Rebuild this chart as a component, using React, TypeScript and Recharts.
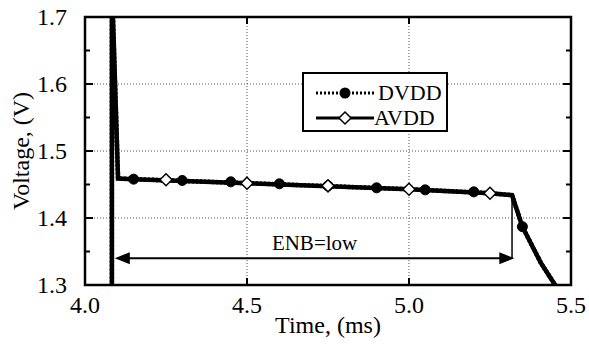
import React from 'react';
import { ComposedChart, Line, XAxis, YAxis, ReferenceLine, ReferenceArea, Legend } from 'recharts';

const FONT = 'Liberation Serif, Times New Roman, serif';

// main waveform (DVDD and AVDD coincide)
const curveTime = [4.083, 4.083, 4.102, 4.15, 4.5, 5.0, 5.25, 5.318, 5.35, 5.407, 5.455];
const curveVolt = [1.25, 1.75, 1.459, 1.458, 1.452, 1.443, 1.437, 1.434, 1.387, 1.333, 1.297];

// marker positions
const dvddTime = [4.15, 4.3, 4.45, 4.6, 4.75, 4.9, 5.05, 5.2, 5.35];
const dvddVolt = [1.458, 1.456, 1.454, 1.451, 1.448, 1.445, 1.442, 1.439, 1.387];
const avddTime = [4.25, 4.5, 4.75, 5.0, 5.25];
const avddVolt = [1.457, 1.452, 1.448, 1.443, 1.437];

const seriesNames = ['DVDD', 'AVDD'];

const yTicks = [1.3, 1.35, 1.4, 1.45, 1.5, 1.55, 1.6, 1.65, 1.7];
const xTicks = [4.0, 4.5, 5.0, 5.5];
const yGrid = [1.4, 1.5, 1.6];
const xGrid = [4.5, 5.0];

// ENB annotation
const enbStart = 4.092;
const enbEnd = 5.325;
const enbLevel = 1.34;
const enbMarkTime = 5.318;
const enbMarkTop = 1.434;
const enbLabel = 'ENB=low';

const curveData = curveTime.map((t, i) => ({ t, v: curveVolt[i] }));
const dvddData = dvddTime.map((t, i) => ({ t, v: dvddVolt[i] }));
const avddData = avddTime.map((t, i) => ({ t, v: avddVolt[i] }));

const isMajor = (v: number) => Math.abs(v * 10 - Math.round(v * 10)) < 1e-6;

const LeftTick = (props: any) => {
  const { x, y, payload } = props;
  const v = payload.value;
  const major = isMajor(v);
  const ax = x + 18;
  return (
    <g>
      <line x1={ax} x2={ax + (major ? 8 : 5)} y1={y} y2={y} stroke="#000" strokeWidth={2} />
      {major ? (
        <text x={x} y={y} dy={8} textAnchor="end" fontSize={24} style={{ fontFamily: FONT }} fill="#000">
          {v.toFixed(1)}
        </text>
      ) : null}
    </g>
  );
};

const RightTick = (props: any) => {
  const { x, y, payload } = props;
  const major = isMajor(payload.value);
  return <line x1={x} x2={x - (major ? 8 : 5)} y1={y} y2={y} stroke="#000" strokeWidth={2} />;
};

const BottomTick = (props: any) => {
  const { x, y, payload, index } = props;
  const v = payload.value;
  const inner = index > 0 && index < xTicks.length - 1;
  return (
    <g>
      {inner ? <line x1={x} x2={x} y1={y} y2={y - 7} stroke="#000" strokeWidth={2} /> : null}
      <text x={x} y={y + 28} textAnchor="middle" fontSize={24} style={{ fontFamily: FONT }} fill="#000">
        {v.toFixed(1)}
      </text>
    </g>
  );
};

const TopTick = (props: any) => {
  const { x, y, index } = props;
  const inner = index > 0 && index < xTicks.length - 1;
  return inner ? <line x1={x} x2={x} y1={y} y2={y + 7} stroke="#000" strokeWidth={2} /> : <g />;
};

const circleDot = (props: any) => {
  const { cx, cy, index } = props;
  return <circle key={`c-${index}`} cx={cx} cy={cy} r={5} fill="#000" stroke="#000" />;
};

const diamondDot = (props: any) => {
  const { cx, cy, index } = props;
  const s = 6;
  return (
    <path
      key={`d-${index}`}
      d={`M${cx} ${cy - s} L${cx + s} ${cy} L${cx} ${cy + s} L${cx - s} ${cy} Z`}
      fill="#fff"
      stroke="#000"
      strokeWidth={1.5}
    />
  );
};

const ArrowShape = (props: any) => {
  const { x1, y1, x2, y2 } = props;
  const a = 15;
  const h = 6;
  const left = Math.min(x1, x2);
  const right = Math.max(x1, x2);
  const y = y1;
  return (
    <g>
      <line x1={left + a - 2} x2={right - a + 2} y1={y} y2={y2} stroke="#000" strokeWidth={2} />
      <path d={`M${left} ${y} L${left + a} ${y - h} L${left + a} ${y + h} Z`} fill="#000" />
      <path d={`M${right} ${y} L${right - a} ${y - h} L${right - a} ${y + h} Z`} fill="#000" />
    </g>
  );
};

const LegendBox = () => (
  <svg width={146} height={60} style={{ display: 'block' }}>
    <rect x={1} y={1} width={144} height={58} fill="#fff" stroke="#000" strokeWidth={2} />
    <line x1={14} x2={73} y1={21} y2={21} stroke="#000" strokeWidth={3} strokeDasharray="2 2" />
    <circle cx={43} cy={21} r={5.5} fill="#000" />
    <text x={76} y={28} fontSize={22} style={{ fontFamily: FONT }} fill="#000">{seriesNames[0]}</text>
    <line x1={14} x2={72} y1={46} y2={46} stroke="#000" strokeWidth={3} />
    <path d="M43 40 L49 46 L43 52 L37 46 Z" fill="#fff" stroke="#000" strokeWidth={1.5} />
    <text x={72} y={53} fontSize={22} style={{ fontFamily: FONT }} fill="#000">{seriesNames[1]}</text>
  </svg>
);

export default function App() {
  return (
    <div style={{ position: 'absolute', left: 0, top: 0, background: '#fff', fontFamily: FONT }}>
      <ComposedChart width={589} height={347} margin={{ top: 0, right: 0, bottom: 0, left: 0 }}>
        <XAxis
          dataKey="t"
          type="number"
          domain={[4, 5.5]}
          ticks={xTicks}
          allowDataOverflow
          interval={0}
          height={62}
          tickSize={0}
          tickMargin={0}
          tickLine={false}
          axisLine={false}
          tick={<BottomTick />}
          label={{ value: 'Time, (ms)', position: 'insideBottom', offset: 14, style: { fontSize: 24, fontFamily: FONT, fill: '#000' } }}
        />
        <XAxis
          xAxisId="top"
          orientation="top"
          dataKey="t"
          type="number"
          domain={[4, 5.5]}
          ticks={xTicks}
          allowDataOverflow
          interval={0}
          height={17}
          tickSize={0}
          tickMargin={0}
          tickLine={false}
          axisLine={false}
          tick={<TopTick />}
        />
        <YAxis
          dataKey="v"
          type="number"
          domain={[1.3, 1.7]}
          ticks={yTicks}
          allowDataOverflow
          interval={0}
          width={85}
          tickSize={0}
          tickMargin={18}
          tickLine={false}
          axisLine={false}
          tick={<LeftTick />}
          label={{ value: 'Voltage, (V)', angle: -90, position: 'insideLeft', offset: 20, style: { fontSize: 24, fontFamily: FONT, fill: '#000', textAnchor: 'middle' } }}
        />
        <YAxis
          yAxisId="right"
          orientation="right"
          type="number"
          domain={[1.3, 1.7]}
          ticks={yTicks}
          allowDataOverflow
          interval={0}
          width={18}
          tickSize={0}
          tickMargin={0}
          tickLine={false}
          axisLine={false}
          tick={<RightTick />}
        />
        {yGrid.map((g) => (
          <ReferenceLine key={`gy-${g}`} y={g} stroke="#555" strokeWidth={1} strokeDasharray="1 2" />
        ))}
        {xGrid.map((g) => (
          <ReferenceLine key={`gx-${g}`} x={g} stroke="#555" strokeWidth={1} strokeDasharray="1 2" />
        ))}
        <Line
          data={curveData}
          dataKey="v"
          name={seriesNames[0]}
          type="linear"
          stroke="#000"
          strokeWidth={4.5}
          strokeDasharray="2 2"
          dot={false}
          activeDot={false}
          isAnimationActive={false}
        />
        <Line
          data={curveData}
          dataKey="v"
          name={seriesNames[1]}
          type="linear"
          stroke="#000"
          strokeWidth={4.5}
          dot={false}
          activeDot={false}
          isAnimationActive={false}
        />
        <Line
          data={dvddData}
          dataKey="v"
          stroke="none"
          dot={circleDot}
          activeDot={false}
          legendType="none"
          isAnimationActive={false}
        />
        <Line
          data={avddData}
          dataKey="v"
          stroke="none"
          dot={diamondDot}
          activeDot={false}
          legendType="none"
          isAnimationActive={false}
        />
        <ReferenceLine
          segment={[{ x: enbStart, y: enbLevel }, { x: enbEnd, y: enbLevel }]}
          shape={ArrowShape}
          label={{ value: enbLabel, position: 'top', offset: 8, style: { fontSize: 21, fontFamily: FONT, fill: '#000' } }}
        />
        <ReferenceLine
          segment={[{ x: enbMarkTime, y: enbMarkTop }, { x: enbMarkTime, y: enbLevel }]}
          stroke="#000"
          strokeWidth={1.5}
        />
        <ReferenceArea x1={4} x2={5.5} y1={1.3} y2={1.7} fill="none" stroke="#000" strokeWidth={2.5} />
        <Legend
          layout="horizontal"
          verticalAlign="middle"
          align="center"
          content={<LegendBox />}
          wrapperStyle={{ left: 302, top: 72, width: 146, height: 60 }}
        />
      </ComposedChart>
    </div>
  );
}
